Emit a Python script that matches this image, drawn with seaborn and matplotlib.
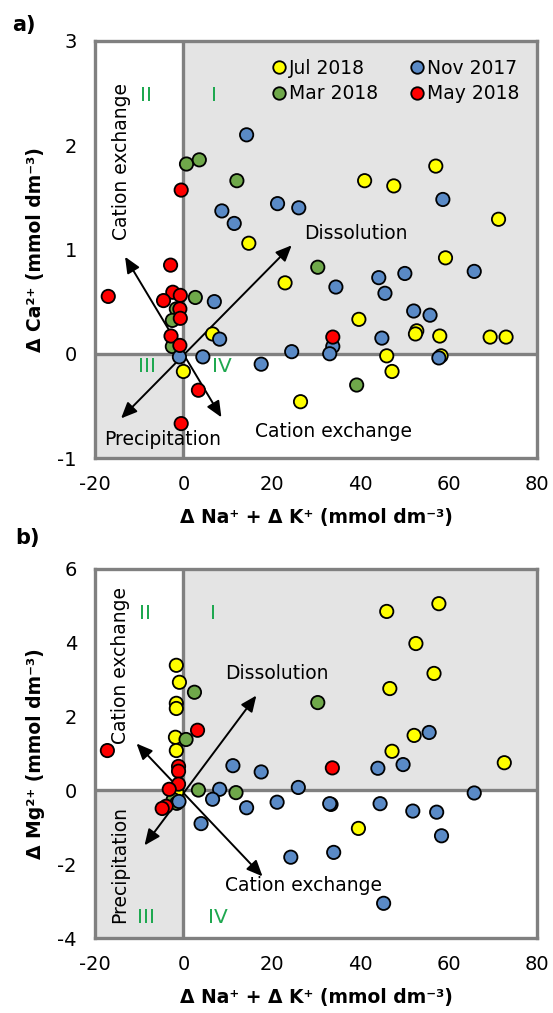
import numpy as np
import pandas as pd
import matplotlib
matplotlib.use("Agg")
import matplotlib.pyplot as plt
from matplotlib.lines import Line2D
import seaborn as sns

# ---------------- data ----------------
series_order = ["Jul 2018", "Mar 2018", "Nov 2017", "May 2018"]
series_colors = ["#ffff00", "#6fa84a", "#5a8ac6", "#ff0000"]

# Panel a: dNa+dK (x) vs dCa (y)
a_jul_x = [14.8, 41.0, 47.6, 57.1, 71.3, 23.0, 59.3, 39.7, 52.8, 52.5, 58.0, 69.4, 73.0, 46.0, 58.3, 47.2, 26.5, 6.6, 0.0]
a_jul_y = [1.06, 1.66, 1.61, 1.80, 1.29, 0.68, 0.92, 0.33, 0.22, 0.19, 0.17, 0.16, 0.16, -0.02, -0.02, -0.17, -0.46, 0.19, -0.17]
a_mar_x = [0.7, 3.6, 12.1, 30.4, 39.2, 2.7, -1.6, -2.5, -2.5]
a_mar_y = [1.82, 1.86, 1.66, 0.83, -0.30, 0.54, 0.43, 0.32, 0.07]
a_nov_x = [14.3, 8.7, 11.5, 21.3, 26.1, 58.7, 34.5, 44.2, 45.6, 50.1, 65.8, 52.1, 55.8, 44.9, 33.8, 33.1, 24.5, 57.8, 7.0, 8.2, -0.9, 4.4, 17.6]
a_nov_y = [2.10, 1.37, 1.25, 1.44, 1.40, 1.48, 0.64, 0.73, 0.58, 0.77, 0.79, 0.41, 0.37, 0.15, 0.07, 0.00, 0.02, -0.04, 0.50, 0.14, -0.03, -0.03, -0.10]
a_may_x = [-0.5, -2.9, -17.0, -2.4, -0.7, -4.5, -0.8, -0.7, -2.8, -0.8, 3.4, -0.5, 33.8]
a_may_y = [1.57, 0.85, 0.55, 0.59, 0.56, 0.51, 0.43, 0.34, 0.17, 0.08, -0.35, -0.67, 0.16]

# Panel b: dNa+dK (x) vs dMg (y)
b_jul_x = [-1.6, -0.9, -1.6, -1.6, -1.8, -1.6, 46.0, 57.8, 52.6, 56.7, 46.7, 52.2, 47.2, 72.6, 39.6, -1.5]
b_jul_y = [3.39, 2.93, 2.36, 2.22, 1.44, 1.08, 4.85, 5.06, 3.98, 3.17, 2.76, 1.49, 1.06, 0.75, -1.03, -0.05]
b_mar_x = [2.5, 0.6, 30.4, 3.4, 11.9, -2.3, -1.5]
b_mar_y = [2.66, 1.38, 2.38, 0.01, -0.06, -0.25, -0.35]
b_nov_x = [11.2, 17.6, 8.2, 6.6, 14.3, 4.0, 21.2, 55.6, 49.7, 44.0, 26.0, 33.4, 33.1, 44.5, 51.9, 57.3, 58.4, 65.8, 24.3, 34.0, 45.3, -1.0]
b_nov_y = [0.67, 0.50, 0.03, -0.24, -0.47, -0.90, -0.32, 1.57, 0.70, 0.60, 0.08, -0.38, -0.36, -0.36, -0.56, -0.59, -1.23, -0.07, -1.81, -1.68, -3.06, -0.30]
b_may_x = [3.2, -17.2, -1.1, -1.1, -1.1, -3.2, -3.9, -4.8, 33.7]
b_may_y = [1.63, 1.08, 0.65, 0.52, 0.17, 0.03, -0.43, -0.49, 0.61]

x_ticks = [-20, 0, 20, 40, 60, 80]
a_y_ticks = [-1, 0, 1, 2, 3]
b_y_ticks = [-4, -2, 0, 2, 4, 6]

x_label = "\u0394 Na\u207a + \u0394 K\u207a (mmol dm\u207b\u00b3)"
a_y_label = "\u0394 Ca\u00b2\u207a (mmol dm\u207b\u00b3)"
b_y_label = "\u0394 Mg\u00b2\u207a (mmol dm\u207b\u00b3)"

# arrows (tip-to-tip, data units)
a_arrows = [((-14.1, -0.62), (24.5, 1.04)), ((-13.2, 0.93), (8.6, -0.61))]
b_arrows = [((-8.8, -1.49), (16.5, 2.57)), ((-10.6, 1.27), (17.9, -2.33))]

# ---------------- style ----------------
sns.set_theme(style="white")
plt.rcParams["font.family"] = ["DejaVu Sans"]
plt.rcParams["text.color"] = "black"
plt.rcParams["axes.labelcolor"] = "black"

GRAY = "#808080"
SHADE = "#e4e4e4"
QGREEN = "#1fa850"


def frame(xs, ys):
    rows = []
    for s, xv, yv in zip(series_order, xs, ys):
        for xx, yy in zip(xv, yv):
            rows.append({"x": xx, "y": yy, "Series": s})
    return pd.DataFrame(rows)


df_a = frame([a_jul_x, a_mar_x, a_nov_x, a_may_x], [a_jul_y, a_mar_y, a_nov_y, a_may_y])
df_b = frame([b_jul_x, b_mar_x, b_nov_x, b_may_x], [b_jul_y, b_mar_y, b_nov_y, b_may_y])

fig = plt.figure(figsize=(5.53, 10.13), dpi=100)
W, H = 553.0, 1013.0
ax_a = fig.add_axes([95 / W, 1 - 458 / H, (537 - 95) / W, (458 - 41) / H])
ax_b = fig.add_axes([95 / W, 1 - 938 / H, (537 - 95) / W, (938 - 569) / H])

palette = dict(zip(series_order, series_colors))


def draw(ax, df, ylim, yticks, ylabel, arrows, texts, qlabels):
    x0, x1 = -20, 80
    y0, y1 = ylim
    ax.set_xlim(x0, x1)
    ax.set_ylim(y0, y1)
    ax.add_patch(plt.Rectangle((0, 0), x1, y1, facecolor=SHADE, edgecolor="none", zorder=0))
    ax.add_patch(plt.Rectangle((x0, y0), -x0, -y0, facecolor=SHADE, edgecolor="none", zorder=0))
    ax.axhline(0, color=GRAY, lw=2.4, zorder=1)
    ax.axvline(0, color=GRAY, lw=2.4, zorder=1)
    for (p, q) in arrows:
        ax.annotate("", xy=q, xytext=p,
                    arrowprops=dict(arrowstyle="<|-|>,head_length=0.8,head_width=0.35",
                                    color="black", lw=1.4, shrinkA=0, shrinkB=0),
                    zorder=2)
    sns.scatterplot(data=df, x="x", y="y", hue="Series", hue_order=series_order,
                    palette=palette, s=92, edgecolor="black", linewidth=1.3,
                    ax=ax, legend=False, zorder=3)
    for (tx, ty, s, rot) in texts:
        ax.text(tx, ty, s, rotation=rot, ha="center", va="center", fontsize=13.5,
                color="black", zorder=4)
    for (tx, ty, s) in qlabels:
        ax.text(tx, ty, s, ha="center", va="center", fontsize=14.5, color=QGREEN, zorder=4)
    ax.set_xticks(x_ticks)
    ax.set_yticks(yticks)
    ax.set_xticklabels([str(t) for t in x_ticks])
    ax.set_yticklabels([str(t) for t in yticks])
    ax.tick_params(axis="both", which="major", direction="out", length=6, width=1.6,
                   color=GRAY, labelsize=14, labelcolor="black")
    ax.tick_params(axis="x", pad=6)
    ax.tick_params(axis="y", pad=7)
    for sp in ax.spines.values():
        sp.set_color(GRAY)
        sp.set_linewidth(2.4)
        sp.set_visible(True)
    ax.set_xlabel(x_label, fontsize=13.5, fontweight="bold", labelpad=10, color="black")
    ax.set_ylabel(ylabel, fontsize=13.5, fontweight="bold", labelpad=9, color="black")


draw(ax_a, df_a, (-1, 3), a_y_ticks, a_y_label, a_arrows,
     [(-14.1, 1.84, "Cation exchange", 90), (39.0, 1.15, "Dissolution", 0),
      (-4.8, -0.82, "Precipitation", 0), (34.0, -0.75, "Cation exchange", 0)],
     [(-8.4, 2.48, "II"), (7.0, 2.48, "I"), (-8.2, -0.12, "III"), (8.6, -0.12, "IV")])

draw(ax_b, df_b, (-4, 6), b_y_ticks, b_y_label, b_arrows,
     [(-14.2, 3.39, "Cation exchange", 90), (21.1, 3.17, "Dissolution", 0),
      (-14.5, -2.0, "Precipitation", 90), (27.2, -2.57, "Cation exchange", 0)],
     [(-8.6, 4.8, "II"), (6.6, 4.8, "I"), (-8.4, -3.44, "III"), (7.7, -3.44, "IV")])

# legend on panel a
handles = [Line2D([], [], marker="o", linestyle="none", markersize=9,
                  markerfacecolor=c, markeredgecolor="black", markeredgewidth=1.3)
           for c in series_colors]
leg = ax_a.legend(handles, series_order, ncol=2, loc="upper right",
                  bbox_to_anchor=(0.985, 0.985), frameon=False, fontsize=13.5,
                  handletextpad=0.0, columnspacing=1.6, labelspacing=0.35,
                  handlelength=1.0, borderaxespad=0.2)
for t in leg.get_texts():
    t.set_color("black")

fig.text(12 / W, 1 - 25 / H, "a)", fontsize=15, fontweight="bold", va="center", ha="left")
fig.text(15 / W, 1 - 538 / H, "b)", fontsize=15, fontweight="bold", va="center", ha="left")

fig.savefig("out.png", dpi=100)
